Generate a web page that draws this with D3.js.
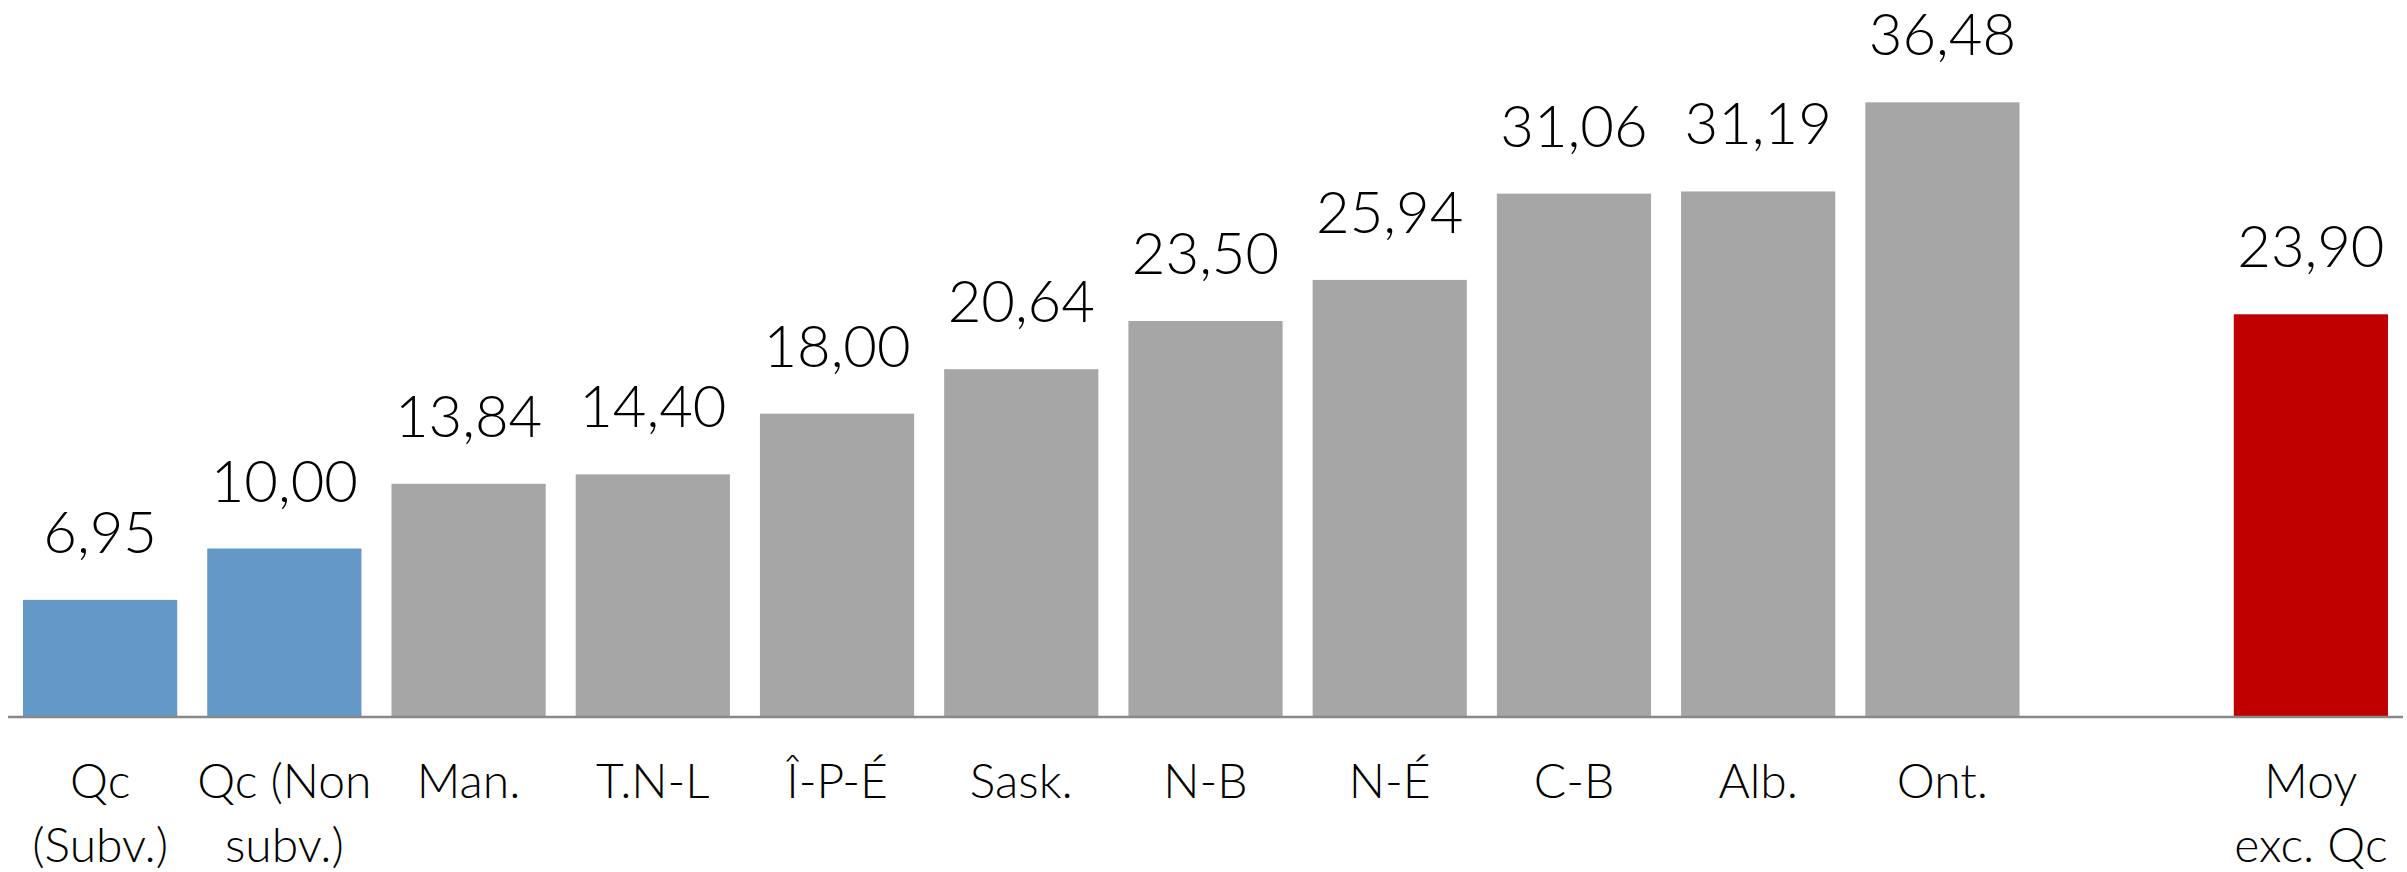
<!DOCTYPE html>
<html><head><meta charset="utf-8">
<script src="https://cdn.jsdelivr.net/npm/d3@7/dist/d3.min.js"></script>
<style>html,body{margin:0;padding:0;background:#fff;}svg{display:block;}</style>
</head><body>
<svg id="chart" width="2407" height="872"></svg>
<script>
const categories = ["Qc (Subv.)", "Qc (Non subv.)", "Man.", "T.N-L", "Î-P-É", "Sask.", "N-B", "N-É", "C-B", "Alb.", "Ont.", "", "Moy exc. Qc"];
const values = [6.95, 10.00, 13.84, 14.40, 18.00, 20.64, 23.50, 25.94, 31.06, 31.19, 36.48, null, 23.90];
const valueLabels = ["6,95", "10,00", "13,84", "14,40", "18,00", "20,64", "23,50", "25,94", "31,06", "31,19", "36,48", "", "23,90"];
const tickLabels = [["Qc", "(Subv.)"], ["Qc (Non", "subv.)"], ["Man."], ["T.N-L"], ["Î-P-É"], ["Sask."], ["N-B"], ["N-É"], ["C-B"], ["Alb."], ["Ont."], [], ["Moy", "exc. Qc"]];
const groups = ["qc", "qc", "prov", "prov", "prov", "prov", "prov", "prov", "prov", "prov", "prov", "", "avg"];
const colors = {qc: "#6498C7", prov: "#A6A6A6", avg: "#C00000"};

const svg = d3.select("#chart");
const baseY = 717;
const x = d3.scaleBand().domain(categories.map((c, i) => i)).range([8, 2403]).paddingInner(0.163).paddingOuter(0.0815);
const y = d3.scaleLinear().domain([0, 40]).range([baseY, baseY - 40 * 16.85]);

const data = categories.map((c, i) => ({i, c, v: values[i], lab: valueLabels[i], g: groups[i]})).filter(d => d.v != null);

svg.append("g").selectAll("rect").data(data).join("rect")
  .attr("x", d => x(d.i)).attr("width", x.bandwidth())
  .attr("y", d => y(d.v)).attr("height", d => y(0) - y(d.v))
  .attr("fill", d => colors[d.g]);

svg.append("g").selectAll("text").data(data).join("text")
  .attr("x", d => x(d.i) + x.bandwidth() / 2)
  .attr("y", d => y(d.v) - 47)
  .attr("text-anchor", "middle")
  .attr("font-family", "Lato, 'Open Sans', sans-serif")
  .attr("font-weight", 300)
  .attr("font-size", 58)
  .attr("fill", "#000")
  .text(d => d.lab);

// axis
const axis = d3.axisBottom(x).tickSize(0).tickFormat("");
const ag = svg.append("g").attr("transform", `translate(0,${baseY})`).call(axis);
ag.select(".domain").attr("stroke", "#898989").attr("stroke-width", 2.5).attr("d", "M8,0H2403");

const tl = svg.append("g").selectAll("text").data(categories.map((c, i) => i)).join("text")
  .attr("text-anchor", "middle")
  .attr("font-family", "Lato, 'Open Sans', sans-serif")
  .attr("font-weight", 300)
  .attr("font-size", 48)
  .attr("fill", "#000")
  .attr("transform", i => `translate(${x(i) + x.bandwidth() / 2},0)`);
tl.selectAll("tspan").data(i => tickLabels[i]).join("tspan")
  .attr("x", 0)
  .attr("y", (d, k) => 798 + k * 64)
  .text(d => d);
</script>
</body></html>
